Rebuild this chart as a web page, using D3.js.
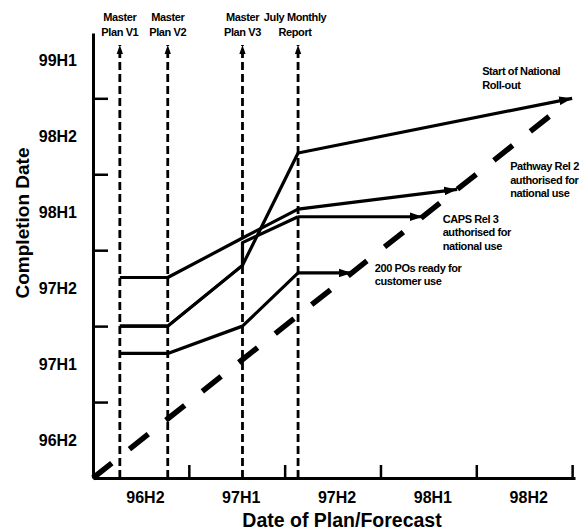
<!DOCTYPE html>
<html>
<head>
<meta charset="utf-8">
<script src="https://cdn.jsdelivr.net/npm/d3@7/dist/d3.min.js"></script>
<style>
  html, body { margin: 0; padding: 0; background: #fff; }
  svg { display: block; }
  text { font-family: "Liberation Sans", Arial, sans-serif; fill: #000; }
</style>
</head>
<body>
<svg id="chart" width="587" height="531"></svg>
<script>
// Half-year periods (decimal years) used on both axes
const periodLabels = ["96H2", "97H1", "97H2", "98H1", "98H2", "99H1"];
const periodMids   = [1996.75, 1997.25, 1997.75, 1998.25, 1998.75, 1999.25];
const yTickValues  = [1997.0, 1997.5, 1998.0, 1998.5, 1999.0];
const xTickValues  = [1997.0, 1997.5, 1998.0, 1998.5, 1999.0];

// Dates at which each plan / forecast was issued
const planNames = [["Master", "Plan V1"], ["Master", "Plan V2"], ["Master", "Plan V3"], ["July Monthly", "Report"]];
const planDates = [1996.64, 1996.89, 1997.28, 1997.57];

// Forecast completion date of each milestone, per plan issue
const rolloutPlan = [1996.64, 1996.89, 1997.28, 1997.57];
const rolloutDone = [1997.50, 1997.50, 1997.90, 1998.64];
const pathwayPlan = [1996.64, 1996.89, 1997.28, 1997.57];
const pathwayDone = [1997.82, 1997.82, 1998.08, 1998.27];
const capsPlan    = [1996.64, 1996.89, 1997.28, 1997.28, 1997.57];
const capsDone    = [1997.50, 1997.50, 1997.90, 1998.05, 1998.22];
const posPlan     = [1996.64, 1996.89, 1997.28, 1997.57];
const posDone     = [1997.32, 1997.32, 1997.50, 1997.85];

// Date at which each milestone is reached (plan date = completion date)
const milestoneNames = [
  ["Start of National", "Roll-out"],
  ["Pathway Rel 2", "authorised for", "national use"],
  ["CAPS Rel 3", "authorised for", "national use"],
  ["200 POs ready for", "customer use"]
];
const milestoneDates = [1999.00, 1998.40, 1998.22, 1997.85];

const series = [
  { plan: rolloutPlan, done: rolloutDone, end: milestoneDates[0], names: milestoneNames[0], dx: -90, dy: -23 },
  { plan: pathwayPlan, done: pathwayDone, end: milestoneDates[1], names: milestoneNames[1], dx: 53, dy: -19 },
  { plan: capsPlan,    done: capsDone,    end: milestoneDates[2], names: milestoneNames[2], dx: 20, dy: 6 },
  { plan: posPlan,     done: posDone,     end: milestoneDates[3], names: milestoneNames[3], dx: 23, dy: -1 }
];

const svg = d3.select("#chart");

const x = d3.scaleLinear().domain([1996.5, 1999.015]).range([93, 575]);
const y = d3.scaleLinear().domain([1996.5, 1999.43]).range([478, 33]);

// Arrow heads
const defs = svg.append("defs");
defs.append("marker")
  .attr("id", "head")
  .attr("markerUnits", "userSpaceOnUse")
  .attr("viewBox", "0 0 12 8")
  .attr("refX", 12).attr("refY", 4)
  .attr("markerWidth", 13).attr("markerHeight", 9)
  .attr("orient", "auto")
  .append("path").attr("d", "M0,0 L12,4 L0,8 Z").attr("fill", "#000");
defs.append("marker")
  .attr("id", "headSmall")
  .attr("markerUnits", "userSpaceOnUse")
  .attr("viewBox", "0 0 10 7")
  .attr("refX", 10).attr("refY", 3.5)
  .attr("markerWidth", 9).attr("markerHeight", 7)
  .attr("orient", "auto")
  .append("path").attr("d", "M0,0 L10,3.5 L0,7 Z").attr("fill", "#000");

// Axes: lines with inward ticks
const yAxis = svg.append("g")
  .attr("transform", `translate(${x(1996.5)},0)`)
  .call(d3.axisLeft(y).tickValues(yTickValues).tickSize(-15).tickSizeOuter(0).tickFormat(""));
const xAxis = svg.append("g")
  .attr("transform", `translate(0,${y(1996.5)})`)
  .call(d3.axisBottom(x).tickValues(xTickValues).tickSize(-13).tickSizeOuter(0).tickFormat(""));
[yAxis, xAxis].forEach(g => {
  g.select(".domain").attr("stroke", "#000").attr("stroke-width", 3);
  g.selectAll(".tick line").attr("stroke", "#000").attr("stroke-width", 2.5);
});

// Period labels between the ticks
svg.append("g")
  .attr("transform", `translate(${x(1996.5)},0)`)
  .call(d3.axisLeft(y).tickValues(periodMids).tickSize(0).tickPadding(16)
    .tickFormat((d, i) => periodLabels[i]))
  .call(g => g.select(".domain").remove())
  .selectAll("text")
  .attr("font-size", 16).attr("font-weight", "bold")
  .attr("font-family", "Liberation Sans, Arial, sans-serif").attr("fill", "#000");

svg.append("g")
  .attr("transform", `translate(4,${y(1996.5)})`)
  .call(d3.axisBottom(x).tickValues(periodMids.slice(0, 5)).tickSize(0).tickPadding(14)
    .tickFormat((d, i) => periodLabels[i]))
  .call(g => g.select(".domain").remove())
  .selectAll("text")
  .attr("font-size", 16).attr("font-weight", "bold")
  .attr("font-family", "Liberation Sans, Arial, sans-serif").attr("fill", "#000");

// Axis titles
svg.append("text")
  .attr("x", 342).attr("y", 527)
  .attr("text-anchor", "middle")
  .attr("font-size", 19.5).attr("font-weight", "bold")
  .text("Date of Plan/Forecast");
svg.append("text")
  .attr("transform", "translate(29,223) rotate(-90)")
  .attr("text-anchor", "middle")
  .attr("font-size", 19).attr("font-weight", "bold")
  .text("Completion Date");

// Plan issue markers: dashed verticals with arrow at top
const plans = svg.append("g");
planDates.forEach((d, i) => {
  plans.append("line")
    .attr("x1", x(d)).attr("x2", x(d))
    .attr("y1", y(1996.5)).attr("y2", 45)
    .attr("stroke", "#000").attr("stroke-width", 2.8)
    .attr("stroke-dasharray", "8,4")
    .attr("marker-end", "url(#headSmall)");
  planNames[i].forEach((t, k) => {
    plans.append("text")
      .attr("x", x(d) - (i === 3 ? 3 : 0)).attr("y", 21 + k * 15)
      .attr("text-anchor", "middle")
      .attr("font-size", 11).attr("font-weight", "bold")
      .attr("letter-spacing", -0.4)
      .text(t);
  });
});

// Completion = plan date diagonal
svg.append("line")
  .attr("x1", x(1996.5)).attr("y1", y(1996.5))
  .attr("x2", x(1998.885)).attr("y2", y(1998.885))
  .attr("stroke", "#000").attr("stroke-width", 5.5)
  .attr("stroke-dasharray", "24,22.5");

// Forecast history lines ending at the achieved milestone
const line = d3.line().x(p => x(p[0])).y(p => y(p[1]));
series.forEach(s => {
  const pts = s.plan.map((p, i) => [p, s.done[i]]);
  svg.append("path")
    .attr("d", line(pts))
    .attr("fill", "none").attr("stroke", "#000")
    .attr("stroke-width", 3.2).attr("stroke-linejoin", "round");
  const last = pts[pts.length - 1];
  svg.append("line")
    .attr("x1", x(last[0])).attr("y1", y(last[1]))
    .attr("x2", x(s.end)).attr("y2", y(s.end))
    .attr("stroke", "#000").attr("stroke-width", 3.2)
    .attr("marker-end", "url(#head)");
  s.names.forEach((t, k) => {
    svg.append("text")
      .attr("x", x(s.end) + s.dx).attr("y", y(s.end) + s.dy + k * 13.5)
      .attr("font-size", 11).attr("font-weight", "bold")
      .attr("letter-spacing", -0.4)
      .text(t);
  });
});
</script>
</body>
</html>
